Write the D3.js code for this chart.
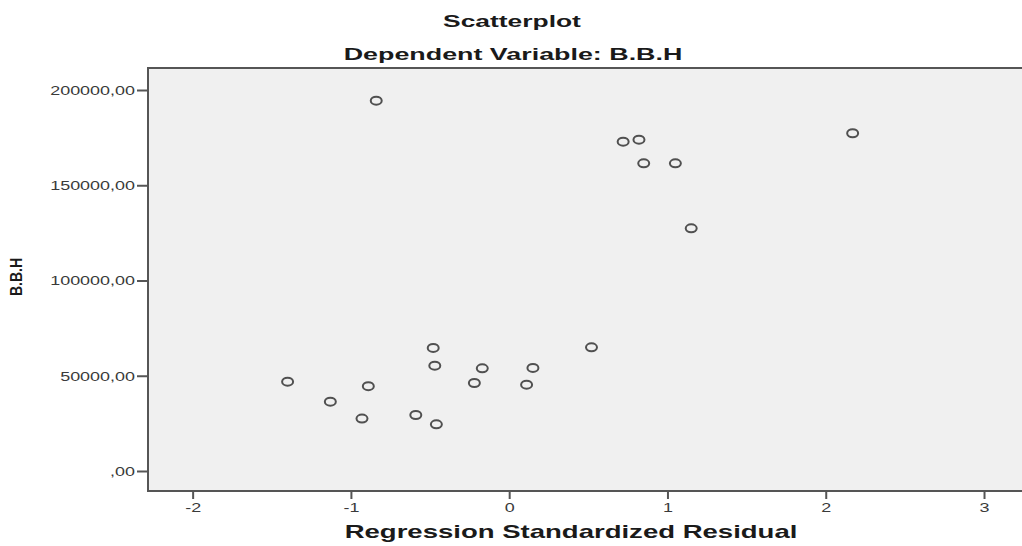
<!DOCTYPE html>
<html>
<head>
<meta charset="utf-8">
<script src="https://cdn.jsdelivr.net/npm/d3@7"></script>
<style>
    body { margin: 0; background: #fff; }
    svg { display: block; font-family: "Liberation Sans", Arial, sans-serif; }
</style>
</head>
<body>
<svg id="chart" width="1022" height="546"></svg>
<script>
// regression standardized residual vs B.B.H
const residuals = [-0.84, 0.72, 0.82, 0.85, 1.05, 2.17, 1.15, -0.48, 0.52, -0.47,
    -0.17, 0.15, -1.40, -0.89, -0.22, 0.11, -1.13, -0.93, -0.59, -0.46];
const bbh = [194400, 172900, 173900, 161500, 161500, 177300, 127400, 64600, 64900, 55300,
    53900, 54100, 46900, 44500, 46200, 45300, 36400, 27500, 29400, 24500];
const xTicks = [-2, -1, 0, 1, 2, 3];
const yTicks = [0, 50000, 100000, 150000, 200000];

const titleText = "Scatterplot";
const subtitleText = "Dependent Variable: B.B.H";
const xLabel = "Regression Standardized Residual";
const yLabel = "B.B.H";

function drawChart() {
    const svg = d3.select("#chart");
    const width = 1022;
    const margin = { top: 68, right: 0, bottom: 55, left: 148 };
    const bottom = 491;

    const x = d3.scaleLinear()
        .domain([-2.282, 3.24])
        .range([margin.left, width]);

    const y = d3.scaleLinear()
        .domain([-10500, 211550])
        .range([bottom, margin.top]);

    // plot background + frame
    svg.append("rect")
        .attr("x", margin.left)
        .attr("y", margin.top)
        .attr("width", width - margin.left + 10)
        .attr("height", bottom - margin.top)
        .attr("fill", "#f0f0f0")
        .attr("stroke", "#555")
        .attr("stroke-width", 2);

    // SPSS style: comma decimals, no leading zero on 0
    const fmtY = (v) => {
        const s = d3.format(".2f")(v).replace(".", ",");
        return v === 0 ? s.slice(1) : s;
    };
    const fmtX = (v) => `${v}`;

    const yAxis = svg.append("g")
        .attr("transform", `translate(${margin.left},0)`)
        .call(d3.axisLeft(y).tickValues(yTicks).tickFormat(fmtY).tickSize(11).tickSizeOuter(0).tickPadding(2));
    yAxis.select(".domain").remove();
    yAxis.selectAll("line").attr("stroke", "#555").attr("stroke-width", 2);
    yAxis.selectAll("text")
        .attr("x", 0)
        .attr("transform", "translate(-13,0) scale(1.33,1)")
        .attr("fill", "#3a3a3a")
        .style("font-size", "13.5px");

    const xAxis = svg.append("g")
        .attr("transform", `translate(0,${bottom})`)
        .call(d3.axisBottom(x).tickValues(xTicks).tickFormat(fmtX).tickSize(8).tickSizeOuter(0).tickPadding(3));
    xAxis.select(".domain").remove();
    xAxis.selectAll("line").attr("stroke", "#555").attr("stroke-width", 2);
    xAxis.selectAll("text")
        .attr("transform", "scale(1.33,1)")
        .attr("fill", "#3a3a3a")
        .style("font-size", "13.5px");

    // points
    const points = residuals.map((r, i) => ({ r, v: bbh[i] }));
    svg.append("g")
        .selectAll("ellipse")
        .data(points)
        .enter()
        .append("ellipse")
        .attr("cx", (d) => x(d.r))
        .attr("cy", (d) => y(d.v))
        .attr("rx", 5.5)
        .attr("ry", 4)
        .attr("fill", "none")
        .attr("stroke", "#505050")
        .attr("stroke-width", 2);

    // titles
    const boldText = (txt, cx, cy, size, sx) => svg.append("text")
        .attr("transform", `translate(${cx},${cy}) scale(${sx},1)`)
        .attr("text-anchor", "middle")
        .attr("font-weight", "bold")
        .attr("fill", "#1a1a1a")
        .style("font-size", `${size}px`)
        .text(txt);

    boldText(titleText, 512, 27, 16.5, 1.6);
    boldText(subtitleText, 513, 60, 17, 1.58);
    boldText(xLabel, 571, 538, 18, 1.53);

    svg.append("text")
        .attr("transform", "translate(22,277) rotate(-90)")
        .attr("text-anchor", "middle")
        .attr("font-weight", "bold")
        .attr("fill", "#1a1a1a")
        .attr("font-size", 16)
        .attr("textLength", 38)
        .attr("lengthAdjust", "spacingAndGlyphs")
        .text(yLabel);
}

document.addEventListener("DOMContentLoaded", drawChart);
</script>
</body>
</html>
